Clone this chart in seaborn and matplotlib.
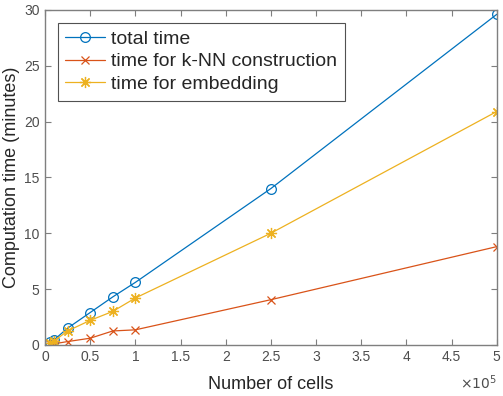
import matplotlib
matplotlib.use("Agg")
import matplotlib.pyplot as plt
import seaborn as sns
from matplotlib.ticker import FuncFormatter, MultipleLocator

sns.set_theme(style="white")
plt.rcParams['font.family'] = ['Liberation Sans', 'DejaVu Sans']

cells = [5000, 10000, 25000, 50000, 75000, 100000, 250000, 500000]
total_time = [0.3, 0.45, 1.5, 2.9, 4.3, 5.6, 14.0, 29.6]
knn_time = [0.05, 0.1, 0.3, 0.6, 1.25, 1.35, 4.05, 8.8]
embed_time = [0.2, 0.35, 1.25, 2.2, 3.0, 4.2, 10.0, 20.9]

labels = ["total time", "time for k-NN construction", "time for embedding"]
colors = ["#0072BD", "#D95319", "#EDB120"]

fig = plt.figure(figsize=(5.03, 3.96), dpi=100)
ax = fig.add_axes([0.0895, 0.129, 0.898, 0.846])

sns.lineplot(x=cells, y=total_time, ax=ax, color=colors[0], marker='o', markersize=7,
             markerfacecolor='none', markeredgecolor=colors[0], markeredgewidth=0.9,
             linewidth=0.9, label=labels[0])
sns.lineplot(x=cells, y=knn_time, ax=ax, color=colors[1], marker='x', markersize=6,
             markeredgecolor=colors[1], markeredgewidth=0.9, linewidth=0.9, label=labels[1])
sns.lineplot(x=cells, y=embed_time, ax=ax, color=colors[2], marker=(8, 2, 0), markersize=8,
             markeredgecolor=colors[2], markeredgewidth=0.9, linewidth=0.9, label=labels[2])

ax.set_xlim(0, 500000)
ax.set_ylim(0, 30)
ax.xaxis.set_major_locator(MultipleLocator(50000))
ax.yaxis.set_major_locator(MultipleLocator(5))
ax.xaxis.set_major_formatter(FuncFormatter(lambda v, p: f"{v/1e5:g}"))

gray = "#262626"
tick_gray = "#4d4d4d"
for s in ax.spines.values():
    s.set_color("#7f7f7f")
    s.set_linewidth(1.0)
ax.tick_params(direction='in', length=4, width=0.8, color="#7f7f7f",
               labelsize=10, labelcolor=tick_gray, top=True, right=True,
               bottom=True, left=True, pad=4)

ax.set_xlabel("Number of cells", fontsize=13, color=gray, labelpad=8)
ax.set_ylabel("Computation time (minutes)", fontsize=13, color=gray, labelpad=3)

fig.text(0.988, 0.033, r"$\times10^5$", ha='right', va='center', fontsize=10, color=tick_gray)

leg = ax.legend(loc='upper left', fontsize=14, frameon=True, fancybox=False,
                edgecolor="#262626", borderpad=0.4, labelspacing=0.25,
                handlelength=2.05, handletextpad=0.3, borderaxespad=0.65)
leg.get_frame().set_linewidth(0.8)

fig.savefig("out.png", dpi=100)
